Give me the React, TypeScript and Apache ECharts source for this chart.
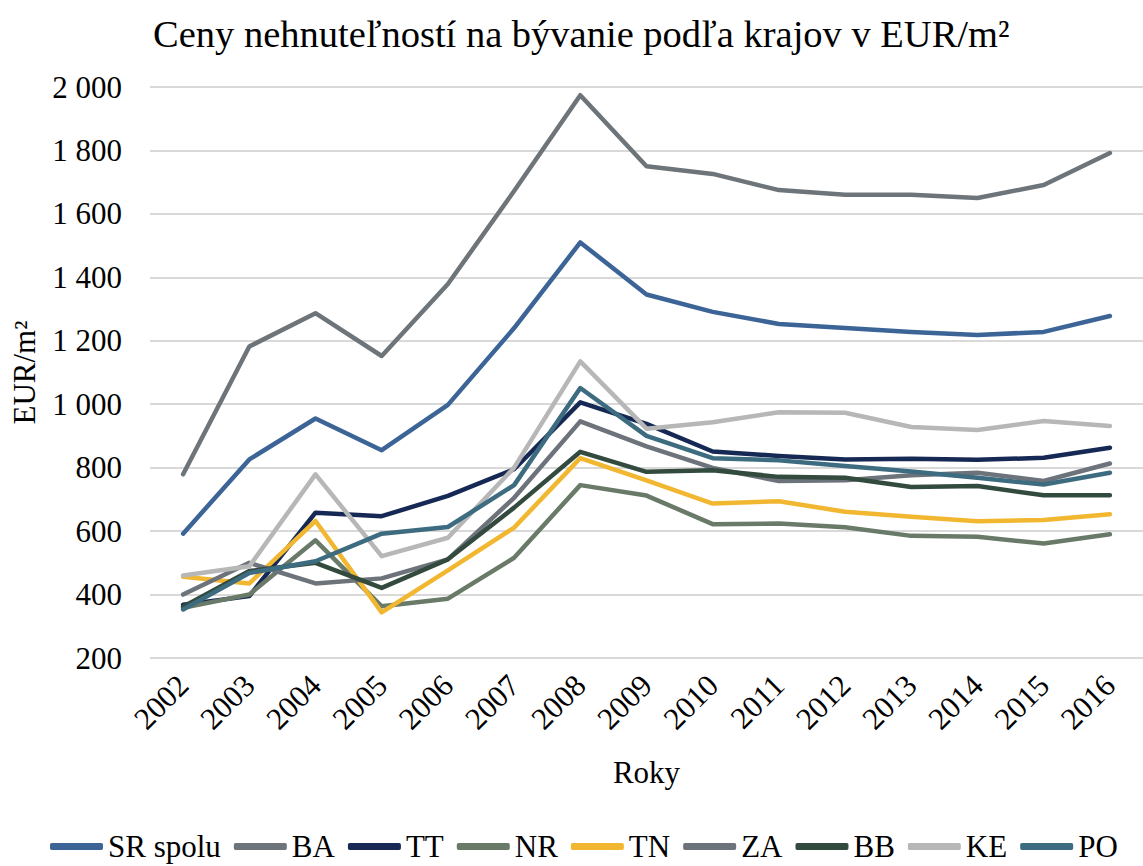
import React, { useEffect, useRef } from "react";
import * as echarts from "echarts";

const years = ["2002","2003","2004","2005","2006","2007","2008","2009","2010","2011","2012","2013","2014","2015","2016"];
const srSpolu = [592, 826, 955, 855, 998, 1240, 1510, 1346, 1291, 1253, 1240, 1228, 1218, 1228, 1278];
const ba = [779, 1182, 1287, 1152, 1379, 1672, 1974, 1750, 1726, 1675, 1660, 1660, 1650, 1691, 1792];
const tt = [368, 395, 658, 647, 711, 795, 1006, 938, 851, 837, 826, 828, 825, 831, 863];
const nr = [358, 400, 571, 363, 387, 516, 745, 712, 622, 624, 612, 585, 582, 561, 590];
const tn = [456, 435, 632, 344, 476, 611, 830, 760, 687, 694, 661, 645, 631, 635, 653];
const za = [400, 500, 435, 451, 511, 705, 946, 867, 799, 758, 760, 776, 784, 758, 813];
const bb = [362, 474, 500, 421, 511, 674, 850, 787, 792, 771, 768, 739, 742, 713, 713];
const ke = [460, 489, 779, 521, 579, 800, 1135, 923, 943, 975, 973, 928, 919, 947, 931];
const po = [353, 468, 505, 592, 613, 745, 1051, 900, 830, 823, 805, 788, 768, 747, 784];

const seriesNames = ["SR spolu", "BA", "TT", "NR", "TN", "ZA", "BB", "KE", "PO"];
const seriesData = [srSpolu, ba, tt, nr, tn, za, bb, ke, po];
const colors = ["#3C6497", "#6D757A", "#162955", "#697A68", "#F2B731", "#6D737A", "#334A3E", "#B7B7B7", "#3D6B7F"];

const FONT = "'Liberation Serif', 'Times New Roman', serif";

export default function App() {
  const ref = useRef<HTMLDivElement>(null);
  useEffect(() => {
    if (!ref.current) return;
    const chart = echarts.init(ref.current, undefined, { renderer: "svg" });
    chart.setOption({
      animation: false,
      color: colors,
      textStyle: { fontFamily: FONT, color: "#000" },
      title: {
        text: "Ceny nehnuteľností na bývanie podľa krajov v EUR/m²",
        left: 148,
        top: 9,
        textStyle: { fontFamily: FONT, fontSize: 38.5, fontWeight: "normal", color: "#000" },
      },
      legend: {
        top: 826,
        left: 45,
        itemWidth: 53,
        itemHeight: 7,
        itemGap: 13,
        icon: "roundRect",
        textStyle: { fontFamily: FONT, fontSize: 31, color: "#000" },
        data: seriesNames,
      },
      grid: { left: 150, right: -10, top: 87, bottom: 208, containLabel: false },
      xAxis: {
        type: "category",
        data: years,
        boundaryGap: true,
        name: "Roky",
        nameLocation: "middle",
        nameGap: 99,
        nameTextStyle: { fontFamily: FONT, fontSize: 31, color: "#000" },
        axisLine: { show: false },
        axisTick: { show: false },
        axisLabel: { rotate: 45, fontFamily: FONT, fontSize: 31, color: "#000", margin: 22, interval: 0 },
      },
      yAxis: {
        type: "value",
        min: 200,
        max: 2000,
        interval: 200,
        name: "EUR/m²",
        nameLocation: "middle",
        nameGap: 110,
        nameRotate: 90,
        nameTextStyle: { fontFamily: FONT, fontSize: 31, color: "#000" },
        axisLine: { show: false },
        axisTick: { show: false },
        axisLabel: {
          fontFamily: FONT,
          fontSize: 31,
          color: "#000",
          margin: 28,
          formatter: (v: number) => (v >= 1000 ? `${Math.floor(v / 1000)} ${String(v % 1000).padStart(3, "0")}` : String(v)),
        },
        splitLine: { lineStyle: { color: "#D9D9D9", width: 2 } },
      },
      series: seriesNames.map((name, i) => ({
        name,
        type: "line",
        data: seriesData[i],
        symbol: "none",
        lineStyle: { width: 4.5, color: colors[i], cap: "round", join: "round" },
        itemStyle: { color: colors[i] },
      })),
    });
    return () => chart.dispose();
  }, []);
  return <div ref={ref} style={{ position: "absolute", left: 0, top: 0, width: 1143, height: 866 }} />;
}
